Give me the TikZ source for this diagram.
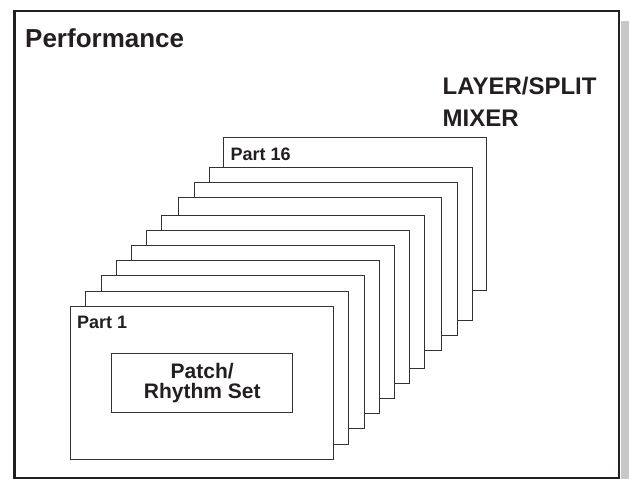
\documentclass[tikz,border=0pt]{standalone}
\usepackage{fontspec}
\setmainfont{Liberation Sans}
\usetikzlibrary{positioning}
\definecolor{inkblack}{RGB}{35,31,32}
\definecolor{cardline}{RGB}{50,50,52}
\definecolor{shadowgray}{RGB}{200,200,202}

\begin{document}
\begin{tikzpicture}[x=1pt, y=-1pt,
    card/.style={draw=cardline, line width=1.4pt, fill=white, anchor=north west,
                 minimum width=263pt, minimum height=153pt, inner sep=0pt},
    partlabel/.style={anchor=base west, inner sep=0pt, text=inkblack,
                      font=\bfseries\fontsize{18}{20}\selectfont},
    patchbox/.style={draw=cardline, line width=1.4pt, fill=white, align=center,
                     minimum width=181pt, minimum height=59pt, inner sep=0pt,
                     text=inkblack, font=\bfseries\fontsize{21}{20}\selectfont},
    heading/.style={anchor=base west, inner sep=0pt, text=inkblack, align=left}]
    \useasboundingbox (0,0) rectangle (629,479);
    % frame and its shadow
    \fill[shadowgray] (620.5,21) rectangle (629,479);
    \draw[inkblack, line width=2.6pt] (14.5,11) rectangle (619,477.8);
    \node[heading, font=\bfseries\fontsize{26}{30}\selectfont] (perf) at (25,47) {Performance};
    \node[heading, font=\bfseries\fontsize{24}{32}\selectfont] (layer) at (442.5,126) {LAYER/SPLIT\\MIXER};
    % stack of parts, back to front
    \foreach \i/\x/\y in {11/223/137, 10/209/167, 9/194/182, 8/178/197, 7/161/215,
                          6/146/230, 5/131/245, 4/116/260, 3/101/275, 2/85/291, 1/70/306}
      \node[card] (card\i) at (\x,\y) {};
    \node[partlabel] (part16) at ([shift={(7.5,23)}]card11.north west) {Part 16};
    \node[partlabel] (part1) at ([shift={(7,22.5)}]card1.north west) {Part 1};
    \node[patchbox] (patch) at (card1.center) {Patch/\\Rhythm Set};
\end{tikzpicture}
\end{document}
